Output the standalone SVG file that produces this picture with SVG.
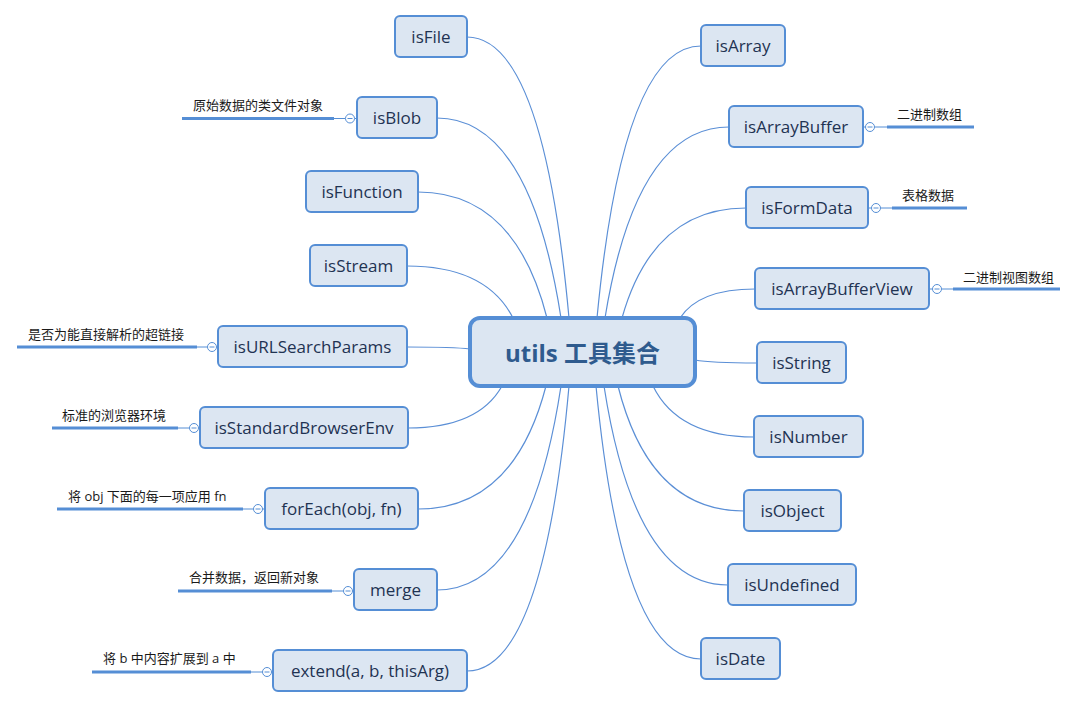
<svg xmlns="http://www.w3.org/2000/svg" width="1084" height="708" viewBox="0 0 1084 708">
<style>
.bg{fill:#ffffff}
.node rect{fill:#dce6f2;stroke:#558ed5;stroke-width:2}
.node text{font-family:"Open Sans","Noto Sans",sans-serif;font-size:17px;fill:#1f3352;text-anchor:middle;dominant-baseline:central}
.hub rect{fill:#dce6f2;stroke:#558ed5;stroke-width:4}
.hub text{font-family:"Open Sans","Noto Sans CJK SC",sans-serif;font-size:24px;font-weight:bold;fill:#2f5b8e;text-anchor:middle;dominant-baseline:central}
.edge{fill:none;stroke:#5b8fd6;stroke-width:1.2}
.thin{fill:none;stroke:#558ed5;stroke-width:1}
.ul{fill:none;stroke:#558ed5;stroke-width:3}
.fold{fill:#ffffff;stroke:#558ed5;stroke-width:1}
.lbl{font-family:"Open Sans","Noto Sans CJK SC",sans-serif;font-size:13px;fill:#1a1a1a}
</style>
<defs>
<g id="foldmark"><circle class="fold" cx="0" cy="0" r="4.5"/><line class="thin" x1="-2.5" y1="0" x2="2.5" y2="0"/></g>
</defs>
<rect class="bg" x="0" y="0" width="1084" height="708"/>
<g id="connectors">
<path class="edge" d="M467,37 Q543.5,37 569,318"/>
<path class="edge" d="M437,118 Q530,118 561,318"/>
<path class="edge" d="M418,192 Q515,192 547,318"/>
<path class="edge" d="M407,266 Q486.5,266 513,318"/>
<path class="edge" d="M407,347 Q454,347 470,349"/>
<path class="edge" d="M408,428 Q478.5,428 502,386"/>
<path class="edge" d="M418,509 Q514,509 546,386"/>
<path class="edge" d="M437,590 Q530,590 561,386"/>
<path class="edge" d="M467,671 Q543.5,671 569,386"/>
<path class="edge" d="M701,46 Q623,46 597,318"/>
<path class="edge" d="M729,127 Q636,127 605,318"/>
<path class="edge" d="M746,208 Q653,208 622,318"/>
<path class="edge" d="M755,289 Q699,289 680,318"/>
<path class="edge" d="M757,363 Q710.5,363 695,360"/>
<path class="edge" d="M754,437 Q678,437 653,386"/>
<path class="edge" d="M744,511 Q649.5,511 618,386"/>
<path class="edge" d="M728,585 Q635,585 604,386"/>
<path class="edge" d="M701,659 Q622,659 596,386"/>
</g>
<g id="hub" class="hub"><rect x="470" y="318" width="225" height="68" rx="10"/><text x="582.5" y="352">utils 工具集合</text></g>
<g id="isFile" class="node"><rect x="395" y="16" width="72" height="41" rx="5"/><text x="431" y="36.5">isFile</text></g>
<g id="isBlob" class="node"><rect x="357" y="97" width="80" height="41" rx="5"/><text x="397" y="117.5">isBlob</text></g>
<g id="isFunction" class="node"><rect x="306" y="171" width="112" height="41" rx="5"/><text x="362" y="191.5">isFunction</text></g>
<g id="isStream" class="node"><rect x="310" y="245" width="97" height="41" rx="5"/><text x="358.5" y="265.5">isStream</text></g>
<g id="isURLSearchParams" class="node"><rect x="218" y="326" width="189" height="41" rx="5"/><text x="312.5" y="346.5">isURLSearchParams</text></g>
<g id="isStandardBrowserEnv" class="node"><rect x="200" y="407" width="208" height="41" rx="5"/><text x="304" y="427.5">isStandardBrowserEnv</text></g>
<g id="forEach" class="node"><rect x="265" y="488" width="153" height="41" rx="5"/><text x="341.5" y="508.5">forEach(obj, fn)</text></g>
<g id="merge" class="node"><rect x="354" y="569" width="83" height="41" rx="5"/><text x="395.5" y="589.5">merge</text></g>
<g id="extend" class="node"><rect x="273" y="650" width="194" height="41" rx="5"/><text x="370" y="670.5">extend(a, b, thisArg)</text></g>
<g id="isArray" class="node"><rect x="701" y="25" width="84" height="41" rx="5"/><text x="743" y="45.5">isArray</text></g>
<g id="isArrayBuffer" class="node"><rect x="729" y="106" width="134" height="41" rx="5"/><text x="796" y="126.5">isArrayBuffer</text></g>
<g id="isFormData" class="node"><rect x="746" y="187" width="122" height="41" rx="5"/><text x="807" y="207.5">isFormData</text></g>
<g id="isArrayBufferView" class="node"><rect x="755" y="268" width="174" height="41" rx="5"/><text x="842" y="288.5">isArrayBufferView</text></g>
<g id="isString" class="node"><rect x="757" y="342" width="89" height="41" rx="5"/><text x="801.5" y="362.5">isString</text></g>
<g id="isNumber" class="node"><rect x="754" y="416" width="109" height="41" rx="5"/><text x="808.5" y="436.5">isNumber</text></g>
<g id="isObject" class="node"><rect x="744" y="490" width="97" height="41" rx="5"/><text x="792.5" y="510.5">isObject</text></g>
<g id="isUndefined" class="node"><rect x="728" y="564" width="128" height="41" rx="5"/><text x="792" y="584.5">isUndefined</text></g>
<g id="isDate" class="node"><rect x="701" y="638" width="79" height="41" rx="5"/><text x="740.5" y="658.5">isDate</text></g>
<g id="label-isBlob"><path class="thin" d="M334,118.5 H345.5 M354.5,118.5 H357"/><line class="ul" x1="182" y1="118.5" x2="334" y2="118.5"/><use href="#foldmark" x="350" y="118.5"/><text class="lbl" x="193" y="110">原始数据的类文件对象</text></g>
<g id="label-isURLSearchParams"><path class="thin" d="M197,347 H207.5 M216.5,347 H218"/><line class="ul" x1="17" y1="347" x2="197" y2="347"/><use href="#foldmark" x="212" y="347"/><text class="lbl" x="28" y="339">是否为能直接解析的超链接</text></g>
<g id="label-isStandardBrowserEnv"><path class="thin" d="M178,428 H189.5 M198.5,428 H200"/><line class="ul" x1="52" y1="428" x2="178" y2="428"/><use href="#foldmark" x="194" y="428"/><text class="lbl" x="62" y="420">标准的浏览器环境</text></g>
<g id="label-forEach"><path class="thin" d="M243,509 H253.5 M262.5,509 H265"/><line class="ul" x1="57" y1="509" x2="243" y2="509"/><use href="#foldmark" x="258" y="509"/><text class="lbl" x="68" y="501">将 obj 下面的每一项应用 fn</text></g>
<g id="label-merge"><path class="thin" d="M332,591 H343.5 M352.5,591 H354"/><line class="ul" x1="178" y1="591" x2="332" y2="591"/><use href="#foldmark" x="348" y="591"/><text class="lbl" x="189" y="582">合并数据，返回新对象</text></g>
<g id="label-extend"><path class="thin" d="M251,672 H262.5 M271.5,672 H273"/><line class="ul" x1="92" y1="672" x2="251" y2="672"/><use href="#foldmark" x="267" y="672"/><text class="lbl" x="103" y="663">将 b 中内容扩展到 a 中</text></g>
<g id="label-isArrayBuffer"><path class="thin" d="M863,127 H865.5 M874.5,127 H887"/><line class="ul" x1="887" y1="127" x2="974" y2="127"/><use href="#foldmark" x="870" y="127"/><text class="lbl" x="897" y="119">二进制数组</text></g>
<g id="label-isFormData"><path class="thin" d="M868,208 H871.5 M880.5,208 H892"/><line class="ul" x1="892" y1="208" x2="967" y2="208"/><use href="#foldmark" x="876" y="208"/><text class="lbl" x="902" y="200">表格数据</text></g>
<g id="label-isArrayBufferView"><path class="thin" d="M929,289 H932.5 M941.5,289 H953"/><line class="ul" x1="953" y1="289" x2="1060" y2="289"/><use href="#foldmark" x="937" y="289"/><text class="lbl" x="963" y="282">二进制视图数组</text></g>
</svg>
